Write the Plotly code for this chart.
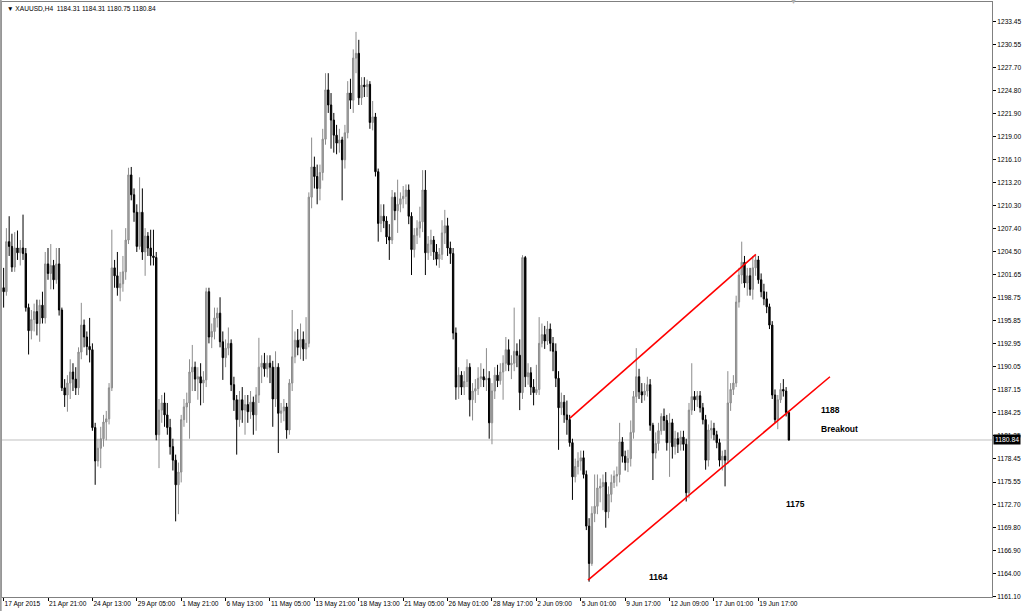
import plotly.graph_objects as go

# ---------------- data (XAUUSD H4) ----------------
opens = [
1200.0,1199.5,1205.8,1205.2,1202.6,1205.0,1204.4,1205.0,1204.3,1197.5,
1194.6,1196.0,1197.0,1195.5,1197.8,1196.2,1203.0,1201.8,1202.8,1201.0,
1203.0,1197.2,1187.4,1186.5,1188.0,1189.4,1188.5,1187.4,1191.9,1195.3,
1193.8,1192.6,1192.2,1182.4,1178.2,1179.8,1181.0,1183.1,1183.5,1187.4,
1202.5,1201.5,1200.0,1200.5,1202.0,1206.0,1214.2,1211.7,1209.5,1205.2,
1209.5,1204.5,1206.5,1205.0,1204.0,1203.8,1181.5,1184.6,1185.5,1184.0,
1182.4,1180.0,1178.3,1175.2,1176.8,1183.4,1185.0,1185.5,1189.4,1190.0,
1188.5,1188.8,1188.0,1188.4,1199.5,1193.8,1194.5,1196.2,1196.8,1193.2,
1191.2,1192.4,1193.0,1187.8,1185.9,1183.4,1185.9,1184.6,1185.3,1184.4,
1185.6,1184.0,1186.5,1190.0,1190.5,1189.8,1190.5,1190.0,1186.0,1190.0,
1184.2,1184.5,1185.0,1182.1,1188.0,1191.3,1193.4,1192.5,1193.5,1192.3,
1193.0,1211.4,1215.2,1214.0,1212.5,1214.5,1218.7,1224.9,1223.0,1221.1,
1219.2,1218.2,1218.6,1216.1,1219.5,1224.5,1223.6,1228.9,1229.5,1223.9,
1225.5,1225.3,1225.6,1220.8,1221.5,1214.6,1208.1,1209.0,1208.4,1206.4,
1206.0,1211.4,1209.7,1210.5,1211.2,1211.5,1212.3,1209.0,1204.8,1206.6,
1207.5,1208.3,1212.3,1204.4,1205.5,1206.0,1204.5,1203.6,1204.2,1206.9,
1207.8,1205.0,1204.3,1194.3,1187.5,1189.0,1187.5,1188.2,1190.0,1185.9,
1187.0,1187.3,1188.6,1188.8,1188.4,1188.6,1183.0,1187.0,1189.0,1188.3,
1189.4,1190.5,1192.2,1190.3,1190.5,1192.0,1191.5,1186.8,1203.8,1188.8,
1189.3,1187.5,1186.8,1187.2,1193.0,1194.1,1193.3,1194.8,1193.0,1192.0,
1188.6,1184.9,1185.6,1184.0,1183.4,1180.5,1176.2,1177.5,1178.2,1178.6,
1176.5,1170.0,1165.3,1171.6,1172.5,1174.8,1175.0,1175.5,1171.8,1174.0,
1175.5,1176.3,1176.5,1180.6,1178.8,1178.0,1178.5,1181.8,1186.3,1188.8,
1186.9,1186.5,1187.0,1187.8,1182.7,1179.2,1180.4,1182.0,1183.8,1183.3,
1180.5,1183.0,1180.0,1181.0,1180.3,1181.2,1180.3,1174.2,1184.6,1186.3,
1185.9,1186.4,1184.9,1183.4,1178.3,1182.1,1182.3,1181.5,1180.5,1178.3,
1178.8,1178.3,1185.5,1187.2,1188.0,1198.2,1201.6,1203.2,1200.6,1201.5,
1199.8,1202.5,1203.5,1201.0,1199.5,1198.6,1197.6,1195.3,1186.5,1183.4,
1185.9,1187.2,1187.0,1184.31,
]
highs = [
1202.5,1207.5,1209.0,1206.8,1207.0,1207.2,1206.0,1209.2,1205.0,1198.0,
1197.2,1198.0,1198.5,1198.5,1199.5,1204.5,1205.0,1205.5,1203.5,1205.0,
1205.0,1197.5,1188.5,1189.0,1191.0,1190.5,1190.0,1192.5,1198.1,1196.0,
1194.5,1196.2,1193.0,1183.0,1181.0,1182.5,1184.0,1184.5,1188.0,1207.3,
1203.5,1204.5,1202.0,1204.0,1207.5,1215.1,1215.2,1212.5,1210.5,1213.9,
1212.5,1207.5,1207.0,1207.3,1207.3,1204.5,1186.0,1186.5,1186.8,1185.5,
1183.5,1181.0,1179.0,1178.0,1184.0,1186.0,1186.8,1191.0,1192.8,1190.7,
1190.0,1190.5,1189.5,1200.0,1200.0,1195.5,1197.5,1197.5,1198.8,1194.5,
1193.5,1195.0,1193.5,1188.8,1186.5,1187.0,1187.5,1186.5,1186.5,1187.0,
1186.3,1187.5,1193.7,1191.5,1191.8,1191.5,1191.5,1190.8,1192.0,1190.5,
1185.5,1186.0,1185.5,1188.5,1197.2,1194.5,1194.8,1195.5,1194.5,1196.3,
1212.0,1218.9,1216.5,1215.5,1215.5,1220.0,1227.0,1227.0,1224.5,1222.0,
1220.5,1220.0,1219.0,1220.5,1226.0,1226.3,1230.0,1232.2,1231.2,1226.5,
1226.5,1226.2,1226.0,1223.5,1222.0,1215.0,1210.5,1210.5,1209.0,1208.0,
1212.3,1212.0,1213.6,1212.0,1212.8,1213.0,1213.0,1209.5,1207.5,1208.5,
1210.2,1214.8,1214.8,1206.5,1207.3,1206.5,1205.5,1205.0,1208.5,1209.8,
1208.8,1205.8,1205.0,1195.0,1190.0,1189.5,1189.5,1191.0,1190.5,1188.0,
1188.5,1190.0,1190.5,1189.8,1192.4,1189.5,1188.0,1190.0,1190.3,1190.5,
1191.5,1193.8,1193.5,1191.5,1197.5,1193.0,1193.5,1204.1,1204.0,1190.5,
1190.0,1188.5,1190.3,1196.3,1195.5,1195.2,1195.8,1195.5,1193.8,1193.0,
1189.5,1186.8,1186.5,1185.8,1184.0,1181.0,1178.5,1179.3,1179.5,1179.5,
1177.0,1171.0,1172.5,1176.5,1176.5,1176.0,1176.5,1176.8,1175.0,1176.5,
1177.0,1177.5,1183.0,1181.2,1179.5,1179.6,1183.3,1187.0,1192.4,1189.8,
1188.0,1188.0,1188.8,1188.5,1183.0,1181.8,1183.0,1184.2,1184.8,1184.0,
1184.2,1183.5,1182.0,1181.8,1182.0,1182.0,1181.0,1185.5,1190.5,1187.0,
1187.0,1187.0,1185.5,1184.0,1182.8,1183.3,1183.0,1182.0,1181.0,1179.5,
1179.6,1189.5,1188.0,1189.0,1199.0,1202.5,1205.8,1204.0,1202.5,1202.5,
1204.0,1204.1,1204.0,1201.8,1200.5,1199.5,1198.0,1195.8,1187.2,1186.5,
1188.0,1188.5,1187.5,1184.31,
]
lows = [
1197.5,1199.0,1204.0,1202.0,1202.0,1203.5,1202.8,1203.5,1197.0,1191.6,
1193.5,1194.5,1194.0,1193.2,1195.5,1195.5,1201.0,1199.8,1199.8,1200.5,
1196.5,1187.0,1185.0,1184.4,1186.0,1187.0,1186.5,1186.5,1191.0,1192.5,
1191.5,1190.6,1182.0,1175.2,1177.5,1177.3,1180.0,1180.8,1182.8,1187.0,
1200.0,1199.0,1198.3,1199.5,1201.0,1205.5,1211.0,1208.3,1204.5,1204.8,
1203.5,1201.5,1204.0,1202.8,1202.8,1180.8,1177.3,1183.0,1182.5,1181.5,
1179.0,1177.0,1170.6,1171.5,1175.5,1182.5,1183.0,1181.0,1187.0,1187.0,
1185.9,1185.2,1185.5,1187.5,1193.0,1192.4,1193.5,1195.0,1192.5,1188.4,
1190.0,1191.5,1187.0,1184.5,1179.0,1182.5,1183.0,1181.5,1183.0,1183.5,
1181.5,1182.0,1185.5,1188.0,1188.8,1188.7,1188.0,1182.5,1185.0,1179.2,
1183.0,1183.2,1181.0,1181.5,1187.0,1190.5,1191.5,1191.0,1190.8,1191.0,
1192.5,1210.0,1212.5,1210.5,1211.0,1213.5,1218.0,1222.0,1217.5,1217.0,
1216.8,1217.0,1211.0,1215.0,1218.8,1222.5,1222.0,1227.0,1223.0,1223.0,
1224.0,1224.0,1220.0,1219.8,1214.0,1205.8,1207.0,1207.5,1205.5,1203.5,
1205.5,1208.5,1206.9,1209.5,1210.0,1210.5,1208.0,1201.6,1203.8,1205.5,
1206.3,1207.0,1201.6,1203.5,1204.0,1203.5,1202.8,1202.5,1203.5,1205.5,
1204.0,1203.0,1193.5,1185.9,1186.0,1186.5,1186.5,1187.5,1183.8,1183.3,
1185.5,1186.5,1187.5,1187.5,1187.0,1181.0,1180.3,1186.0,1187.5,1187.8,
1185.9,1189.5,1189.5,1188.5,1189.5,1190.0,1184.6,1186.0,1187.5,1187.8,
1186.5,1185.2,1186.5,1186.5,1192.5,1192.3,1192.8,1192.0,1189.5,1187.5,
1179.6,1184.0,1183.0,1181.5,1180.0,1173.3,1175.5,1176.5,1177.0,1176.0,
1169.5,1163.0,1165.0,1170.5,1171.5,1173.0,1172.0,1169.8,1171.0,1173.0,
1174.8,1175.0,1175.5,1178.0,1177.0,1176.8,1177.5,1181.0,1185.5,1186.0,
1185.5,1185.8,1186.3,1182.0,1175.8,1178.5,1179.5,1181.5,1182.0,1179.5,
1176.2,1178.5,1179.0,1179.2,1179.5,1179.5,1173.1,1173.5,1184.0,1184.5,
1185.0,1184.3,1182.8,1177.1,1177.5,1181.0,1180.8,1179.8,1177.5,1177.0,
1175.0,1177.8,1184.5,1186.5,1187.5,1197.5,1200.5,1200.0,1199.0,1199.0,
1198.5,1201.5,1200.5,1198.8,1197.8,1196.8,1194.8,1186.0,1183.0,1182.2,
1185.5,1186.3,1183.8,1180.75,
]
closes = [
1199.5,1205.8,1205.2,1202.6,1205.0,1204.4,1205.0,1204.3,1197.5,1194.6,
1196.0,1197.0,1195.5,1197.8,1196.2,1203.0,1201.8,1202.8,1201.0,1203.0,
1197.2,1187.4,1186.5,1188.0,1189.4,1188.5,1187.4,1191.9,1195.3,1193.8,
1192.6,1192.2,1182.4,1178.2,1179.8,1181.0,1183.1,1183.5,1187.4,1202.5,
1201.5,1200.0,1200.5,1202.0,1206.0,1214.2,1211.7,1209.5,1205.2,1209.5,
1204.5,1206.5,1205.0,1204.0,1203.8,1181.5,1184.6,1185.5,1184.0,1182.4,
1180.0,1178.3,1175.2,1176.8,1183.4,1185.0,1185.5,1189.4,1190.0,1188.5,
1188.8,1188.0,1188.4,1199.5,1193.8,1194.5,1196.2,1196.8,1193.2,1191.2,
1192.4,1193.0,1187.8,1185.9,1183.4,1185.9,1184.6,1185.3,1184.4,1185.6,
1184.0,1186.5,1190.0,1190.5,1189.8,1190.5,1190.0,1186.0,1190.0,1184.2,
1184.5,1185.0,1182.1,1188.0,1191.3,1193.4,1192.5,1193.5,1192.3,1193.0,
1211.4,1215.2,1214.0,1212.5,1214.5,1218.7,1224.9,1223.0,1221.1,1219.2,
1218.2,1218.6,1216.1,1219.5,1224.5,1223.6,1228.9,1229.5,1223.9,1225.5,
1225.3,1225.6,1220.8,1221.5,1214.6,1208.1,1209.0,1208.4,1206.4,1206.0,
1211.4,1209.7,1210.5,1211.2,1211.5,1212.3,1209.0,1204.8,1206.6,1207.5,
1208.3,1212.3,1204.4,1205.5,1206.0,1204.5,1203.6,1204.2,1206.9,1207.8,
1205.0,1204.3,1194.3,1187.5,1189.0,1187.5,1188.2,1190.0,1185.9,1187.0,
1187.3,1188.6,1188.8,1188.4,1188.6,1183.0,1187.0,1189.0,1188.3,1189.4,
1190.5,1192.2,1190.3,1190.5,1192.0,1191.5,1186.8,1203.8,1188.8,1189.3,
1187.5,1186.8,1187.2,1193.0,1194.1,1193.3,1194.8,1193.0,1192.0,1188.6,
1184.9,1185.6,1184.0,1183.4,1180.5,1176.2,1177.5,1178.2,1178.6,1176.5,
1170.0,1165.3,1171.6,1172.5,1174.8,1175.0,1175.5,1171.8,1174.0,1175.5,
1176.3,1176.5,1180.6,1178.8,1178.0,1178.5,1181.8,1186.3,1188.8,1186.9,
1186.5,1187.0,1187.8,1182.7,1179.2,1180.4,1182.0,1183.8,1183.3,1180.5,
1183.0,1180.0,1181.0,1180.3,1181.2,1180.3,1174.2,1184.6,1186.3,1185.9,
1186.4,1184.9,1183.4,1178.3,1182.1,1182.3,1181.5,1180.5,1178.3,1178.8,
1178.3,1185.5,1187.2,1188.0,1198.2,1201.6,1203.2,1200.6,1201.5,1199.8,
1202.5,1203.5,1201.0,1199.5,1198.6,1197.6,1195.3,1186.5,1183.4,1185.9,
1187.2,1187.0,1184.31,1180.84,
]

bar_index = list(range(len(closes)))

# time-axis labels (one every 16 H4 bars)
time_tick_bars = [0, 16, 32, 48, 64, 80, 96, 112, 128, 144, 160, 176, 192, 208, 224, 240, 256, 272]
time_tick_labels = ["17 Apr 2015", "21 Apr 21:00", "24 Apr 13:00", "29 Apr 05:00", "1 May 21:00",
                    "6 May 13:00", "11 May 05:00", "13 May 21:00", "18 May 13:00", "21 May 05:00",
                    "26 May 01:00", "28 May 17:00", "2 Jun 09:00", "5 Jun 01:00", "9 Jun 17:00",
                    "12 Jun 09:00", "17 Jun 01:00", "19 Jun 17:00"]

price_ticks = [1233.45, 1230.55, 1227.70, 1224.80, 1221.90, 1219.00, 1216.10, 1213.20, 1210.30,
               1207.40, 1204.50, 1201.65, 1198.75, 1195.85, 1192.95, 1190.05, 1187.15, 1184.25,
               1181.35, 1178.45, 1175.55, 1172.70, 1169.80, 1166.90, 1164.00, 1161.10]

# channel trend lines (bar index, price)
upper_line_x = [204.1, 271.1]
upper_line_y = [1183.6, 1204.2]
lower_line_x = [210.6, 297.8]
lower_line_y = [1163.2, 1188.8]

# text notes (bar index, price, text)
notes = [(294.0, 1184.6, "1188"), (294.0, 1182.2, "Breakout"),
         (281.2, 1172.8, "1175"), (231.8, 1163.6, "1164")]

last_price = 1180.84
header = "XAUUSD,H4  1184.31 1184.31 1180.75 1180.84"
shift_marker_bar = 284.5

x_range = [-0.58, 356.2]
y_range = [1161.08, 1235.96]

FONT = "Liberation Sans"

# ---------------- figure ----------------
fig = go.Figure()

fig.add_trace(go.Candlestick(
    x=bar_index, open=opens, high=highs, low=lows, close=closes,
    increasing=dict(line=dict(color="#8c8c8c", width=1), fillcolor="#a8a8a8"),
    decreasing=dict(line=dict(color="#000000", width=1), fillcolor="#000000"),
    whiskerwidth=0, showlegend=False, hoverinfo="skip",
))

fig.add_trace(go.Scatter(x=upper_line_x, y=upper_line_y, mode="lines",
                         line=dict(color="#ff0000", width=1.6), showlegend=False, hoverinfo="skip"))
fig.add_trace(go.Scatter(x=lower_line_x, y=lower_line_y, mode="lines",
                         line=dict(color="#ff0000", width=1.6), showlegend=False, hoverinfo="skip"))

fig.add_shape(type="line", xref="paper", x0=0, x1=1, yref="y", y0=last_price, y1=last_price,
              line=dict(color="#c0c0c0", width=1), layer="below")

# window border strip at the left edge
fig.add_shape(type="rect", xref="paper", yref="paper", x0=-0.0021, x1=-0.0003, y0=-0.03, y1=1.01,
              fillcolor="#a0a0a0", line=dict(width=0), layer="above")

for nx, ny, nt in notes:
    fig.add_annotation(x=nx, y=ny, text="<b>%s</b>" % nt, showarrow=False, xanchor="left",
                       yanchor="middle", font=dict(family=FONT, size=8.5, color="#000000"))

fig.add_annotation(xref="paper", yref="y", x=1.0, y=last_price, xanchor="left", yanchor="middle",
                   xshift=1, text="%.2f" % last_price, showarrow=False, bgcolor="#000000",
                   font=dict(family=FONT, size=6.8, color="#ffffff"), borderpad=1)

fig.add_annotation(xref="paper", yref="paper", x=0.003, y=1.0, yshift=-1, xanchor="left", yanchor="top",
                   text="\u25bc " + header, showarrow=False,
                   font=dict(family=FONT, size=6.6, color="#000000"))

# chart-shift marker at the top
fig.add_annotation(xref="x", yref="paper", x=shift_marker_bar, y=1.0, yshift=1, xanchor="center",
                   yanchor="middle", text="\u25bc", showarrow=False,
                   font=dict(family=FONT, size=7, color="#b0b0b0"))

fig.update_layout(
    width=1024, height=611,
    margin=dict(l=2, r=32, t=2, b=14, autoexpand=False),
    paper_bgcolor="#ffffff", plot_bgcolor="#ffffff",
    font=dict(family=FONT, size=6.6, color="#000000"),
    xaxis=dict(range=x_range, tickmode="array", tickvals=time_tick_bars, ticktext=time_tick_labels,
               ticks="outside", ticklen=3, tickcolor="#000000", ticklabelposition="outside right",
               tickangle=0, ticklabelstandoff=0,
               showgrid=False, zeroline=False, showline=True, linecolor="#808080", linewidth=1,
               mirror=True, rangeslider=dict(visible=False), fixedrange=True,
               tickfont=dict(family=FONT, size=6.6)),
    yaxis=dict(range=y_range, side="right", tickmode="array", tickvals=price_ticks,
               ticktext=["%.2f" % v for v in price_ticks], ticks="outside", ticklen=3,
               tickcolor="#000000", showgrid=False, zeroline=False, showline=True,
               linecolor="#808080", linewidth=1, mirror=True, fixedrange=True,
               tickfont=dict(family=FONT, size=6.6)),
)

fig.write_html("out.html", config={"displayModeBar": False},
               post_script="document.body.style.margin='0';document.body.style.padding='0';")
